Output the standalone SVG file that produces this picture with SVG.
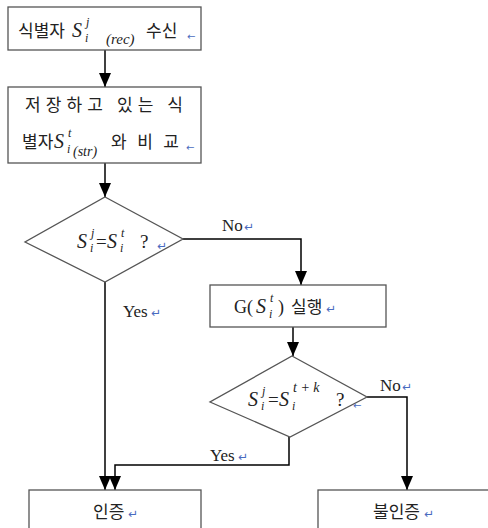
<svg xmlns="http://www.w3.org/2000/svg" width="488" height="528" viewBox="0 0 488 528">
<style>
.box{fill:#fff;stroke:#555;stroke-width:1.3}
.ln{fill:none;stroke:#000;stroke-width:1.5}
.k{font-family:"Noto Sans CJK KR","Noto Sans CJK SC",sans-serif;font-size:17px;fill:#222}
.l{font-family:"Liberation Serif",serif;font-size:17px;fill:#222}
.s{font-family:"Liberation Serif",serif;font-style:italic;font-size:20px;fill:#222}
.sm{font-family:"Liberation Serif",serif;font-style:italic;font-size:12px;fill:#222}
.m{fill:#4a6bc0;font-family:"DejaVu Sans",sans-serif;font-size:12px}
.a{fill:#4a6bc0;font-family:"DejaVu Sans",sans-serif;font-size:10px}
</style>
<defs>
<marker id="ah" markerWidth="14" markerHeight="12" refX="14" refY="6" orient="auto" markerUnits="userSpaceOnUse"><path d="M0,0 L14,6 L0,12 Z" fill="#000"/></marker>
</defs>
<g id="connectors">
<path class="ln" d="M105,50 V87" marker-end="url(#ah)"/>
<path class="ln" d="M105,163 V197" marker-end="url(#ah)"/>
<path class="ln" d="M183,239 H301 V285" marker-end="url(#ah)"/>
<path class="ln" d="M293,327 V356" marker-end="url(#ah)"/>
<path class="ln" d="M105,282 V490" marker-end="url(#ah)"/>
<path class="ln" d="M289,437 V465 H115 V490" marker-end="url(#ah)"/>
<path class="ln" d="M367,397 H407 V490" marker-end="url(#ah)"/>
<text class="l" x="222" y="231">No</text><text class="m" x="244" y="231">↵</text>
<text class="l" x="123" y="317">Yes</text><text class="m" x="151" y="317">↵</text>
<text class="l" x="380" y="391">No</text><text class="m" x="402" y="391">↵</text>
<text class="l" x="210" y="461">Yes</text><text class="m" x="238" y="461">↵</text>
</g>
<g id="n1">
<rect class="box" x="8" y="7" width="193" height="43"/>
<text class="k" x="18" y="37">식별자</text>
<text class="s" x="72" y="37">S</text>
<text class="sm" x="86" y="26">j</text>
<text class="sm" x="85" y="42">i</text>
<text class="sm" x="106" y="44" style="font-size:15px">(rec)</text>
<text class="k" x="146" y="37">수신</text>
<text class="a" x="187" y="40">←</text>
</g>
<g id="n2">
<rect class="box" x="8" y="87" width="193" height="76"/>
<text class="k" x="25" y="111" textLength="158" lengthAdjust="spacing">저장하고 있는 식</text>
<text class="k" x="22" y="148">별자</text>
<text class="s" x="54" y="148">S</text>
<text class="sm" x="68" y="137">t</text>
<text class="sm" x="67" y="153">i</text>
<text class="sm" x="73" y="156" style="font-size:14px">(str)</text>
<text class="k" x="111" y="148" textLength="68" lengthAdjust="spacing">와비교</text>
<text class="a" x="186" y="151">←</text>
</g>
<g id="d1">
<polygon class="box" points="105,197 183,239 105,282 25,242"/>
<text class="s" x="77" y="248">S</text>
<text class="sm" x="91" y="237">j</text>
<text class="sm" x="90" y="252">i</text>
<text class="l" x="96" y="248" style="font-size:19px">=</text>
<text class="s" x="107" y="248">S</text>
<text class="sm" x="121" y="237">t</text>
<text class="sm" x="120" y="252">i</text>
<text class="l" x="140" y="248" style="font-size:19px">?</text>
<text class="m" x="157" y="250">↵</text>
</g>
<g id="n3">
<rect class="box" x="210" y="285" width="176" height="42"/>
<text class="l" x="234" y="313" style="font-size:18px">G(</text>
<text class="s" x="256" y="313">S</text>
<text class="sm" x="270" y="302">t</text>
<text class="sm" x="269" y="318">i</text>
<text class="l" x="278" y="313" style="font-size:18px">)</text>
<text class="k" x="291" y="313">실행</text>
<text class="m" x="326" y="313">↵</text>
</g>
<g id="d2">
<polygon class="box" points="292,356 367,397 290,437 210,402"/>
<text class="s" x="248" y="406">S</text>
<text class="sm" x="262" y="395">j</text>
<text class="sm" x="261" y="410">i</text>
<text class="l" x="268" y="406" style="font-size:19px">=</text>
<text class="s" x="279" y="406">S</text>
<text class="sm" x="293" y="392" style="font-size:14px">t + k</text>
<text class="sm" x="292" y="410">i</text>
<text class="l" x="336" y="406" style="font-size:19px">?</text>
<text class="a" x="353" y="409">←</text>
</g>
<g id="n4">
<rect class="box" x="29" y="490" width="172" height="50"/>
<text class="k" x="93" y="518">인증</text>
<text class="m" x="128" y="518">↵</text>
</g>
<g id="n5">
<rect class="box" x="318" y="490" width="180" height="50"/>
<text class="k" x="373" y="518">불인증</text>
<text class="m" x="424" y="518">↵</text>
</g>
</svg>
